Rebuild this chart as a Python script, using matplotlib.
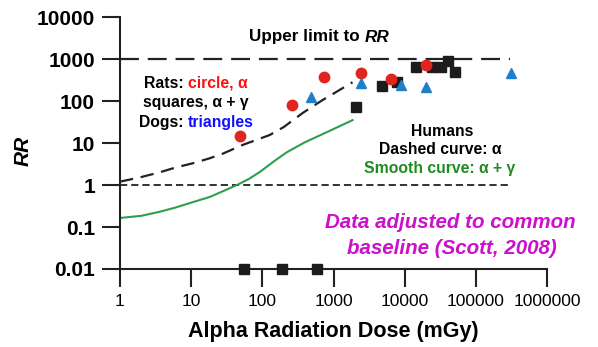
import matplotlib
matplotlib.use("Agg")
import matplotlib.pyplot as plt
from matplotlib.transforms import IdentityTransform

plt.rcParams["font.family"] = ["Liberation Sans", "DejaVu Sans"]

# rats, alpha only (red circles)
rat_alpha_dose = [48, 258, 725, 2400, 6530, 20200]
rat_alpha_rr = [14.7, 80, 373, 465, 335, 720]

# rats, alpha + gamma (black squares)
rat_ag_dose = [2100, 4730, 7680, 14600, 24600, 32800, 41100, 51500]
rat_ag_rr = [72, 228, 281, 647, 647, 647, 890, 490]
rat_ag_zero_dose = [55, 187, 580]   # plotted on the 0.01 floor
rat_ag_zero_rr = [0.01, 0.01, 0.01]

# dogs (blue triangles)
dog_dose = [478, 2400, 9000, 20200, 310000]
dog_rr = [125, 268, 240, 215, 465]

# human model curves
dashed_dose = [1.0, 2.0, 3.6, 6.0, 10.6, 18, 28, 53, 127, 200, 370, 700,
               1000, 1850]
dashed_rr = [1.2, 1.55, 2.0, 2.6, 3.3, 4.3, 5.6, 9.0, 15.5, 24, 52, 105,
             150, 280]
smooth_dose = [1.0, 2.0, 3.6, 6.0, 10, 18.3, 30, 44, 65, 92, 150, 220, 400,
               800, 1850]
smooth_rr = [0.164, 0.185, 0.23, 0.29, 0.38, 0.52, 0.75, 1.0, 1.4, 2.04,
             3.8, 6.0, 10.5, 18, 35]

upper_limit = 1000
ref_rr = 1
line_end_dose = 3.0e5

x_ticks = [1, 10, 100, 1000, 10000, 100000, 1000000]
y_ticks = [0.01, 0.1, 1, 10, 100, 1000, 10000]

W, H = 598, 347
fig = plt.figure(figsize=(W / 100, H / 100), dpi=100)
ax = fig.add_axes([120 / W, 1 - 269 / H, (547 - 120) / W, (269 - 17) / H])
ax.set_xscale("log")
ax.set_yscale("log")
ax.set_xlim(1, 1e6)
ax.set_ylim(0.01, 1e4)

ax.hlines(upper_limit, 1, line_end_dose, color="#222222", lw=1.6,
          linestyles=(0, (8.5, 4)), zorder=1)
ax.hlines(ref_rr, 1, line_end_dose, color="#222222", lw=1.3,
          linestyles=(0, (4, 2.2)), zorder=1)

ax.plot(dashed_dose, dashed_rr, color="#222222", lw=1.6,
        linestyle=(0, (6, 3.5)), zorder=2)
ax.plot(smooth_dose, smooth_rr, color="#2e9e4f", lw=1.5, zorder=2)

ax.plot(rat_ag_dose, rat_ag_rr, "s", color="#1c1c1c", ms=6.5, zorder=3)
ax.plot(rat_ag_zero_dose, rat_ag_zero_rr, "s", color="#1c1c1c", ms=6.5,
        zorder=4, clip_on=False)
ax.plot(rat_alpha_dose, rat_alpha_rr, "o", color="#e0251f", ms=7.5, zorder=4)
ax.plot(dog_dose, dog_rr, "^", color="#1f7fc9", ms=7.5, zorder=4)

for side in ("top", "right"):
    ax.spines[side].set_visible(False)
for side in ("left", "bottom"):
    ax.spines[side].set_linewidth(1.5)
    ax.spines[side].set_color("#222222")

ax.set_xticks(x_ticks)
ax.set_xticklabels([str(v) for v in x_ticks])
ax.set_yticks(y_ticks)
ax.set_yticklabels(["0.01", "0.1", "1", "10", "100", "1000", "10000"])
ax.minorticks_off()
ax.tick_params(axis="y", length=13, width=1.5, pad=5, labelsize=15,
               color="#222222")
ax.tick_params(axis="x", length=13, width=1.5, pad=5, labelsize=12.5,
               color="#222222")
for lab in ax.get_yticklabels():
    lab.set_fontweight("bold")

ax.set_xlabel("Alpha Radiation Dose (mGy)", fontsize=15.5, fontweight="bold",
              labelpad=9)
ax.set_ylabel("RR", fontsize=15, fontweight="bold", style="italic")
ax.yaxis.set_label_coords(-0.205, 0.47)


def colored_line(xc, yc, parts, size, **kw):
    """Draw a line of text made of differently coloured pieces, centred at
    pixel (xc, yc) measured from the top-left corner."""
    renderer = fig.canvas.get_renderer()
    y = H - yc
    texts, x = [], 0.0
    for s, color, extra in parts:
        t = fig.text(x, y, s, color=color, fontsize=size, fontweight="bold",
                     ha="left", va="center", transform=IdentityTransform(),
                     **kw, **extra)
        x += t.get_window_extent(renderer).width
        texts.append(t)
    shift = xc - x / 2
    for t in texts:
        px, py = t.get_position()
        t.set_position((px + shift, py))


colored_line(319, 37, [("Upper limit to ", "black", {}),
                       ("RR", "black", {"style": "italic"})], 12.3)

colored_line(196, 83, [("Rats: ", "black", {}),
                       ("circle, \u03b1", "#ff1010", {})], 11.3)
colored_line(196, 103, [("squares, \u03b1 + \u03b3", "black", {})], 11.3)
colored_line(196, 122, [("Dogs: ", "black", {}),
                        ("triangles", "#1010ff", {})], 11.3)

colored_line(442, 131, [("Humans", "black", {})], 11.3)
colored_line(440, 150, [("Dashed curve: \u03b1", "black", {})], 11.3)
colored_line(440, 168, [("Smooth curve: \u03b1 + \u03b3", "#1e8c1e", {})], 11.3)

colored_line(450, 223, [("Data adjusted to common", "#cc10cc",
                         {"style": "italic"})], 14.8)
colored_line(452, 248, [("baseline (Scott, 2008)", "#cc10cc",
                         {"style": "italic"})], 14.8)

fig.savefig("out.png", dpi=100)
